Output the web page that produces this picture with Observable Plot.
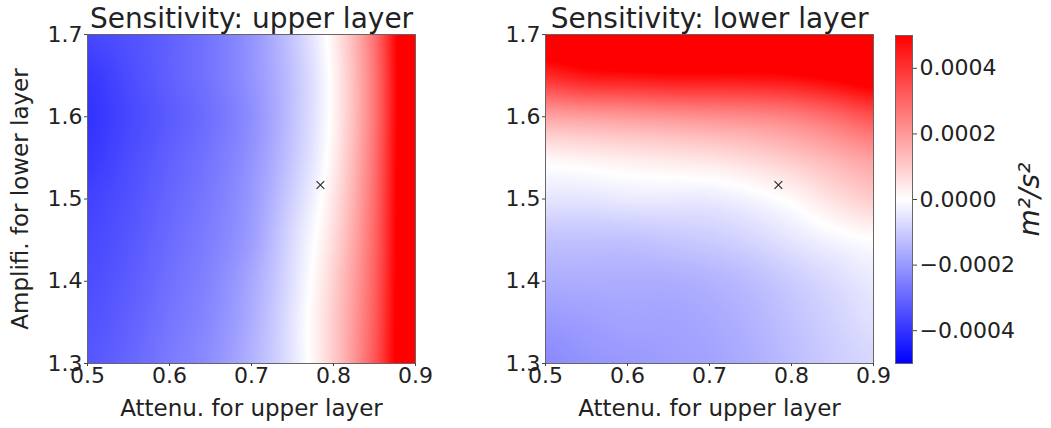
<!DOCTYPE html>
<html>
<head>
<meta charset="utf-8">
<script src="https://cdn.jsdelivr.net/npm/d3@7"></script>
<script src="https://cdn.jsdelivr.net/npm/@observablehq/plot@0.6"></script>
<style>
  body { margin: 0; background: white; }
  #fig { position: relative; width: 1051px; height: 428px; background: white; overflow: hidden; }
  #fig svg { position: absolute; left: 0; top: 0; }
</style>
</head>
<body>
<div id="fig"></div>
<script>
// Grid coordinates
const xs = [0.5, 0.55, 0.6, 0.65, 0.7, 0.75, 0.8, 0.85, 0.9];
const ys = [1.7, 1.65, 1.6, 1.55, 1.5, 1.45, 1.4, 1.35, 1.3]; // rows top to bottom

// Sensitivity of upper layer (m^2/s^2), rows follow ys, columns follow xs
const upperLayer = [
  [-0.00036, -0.00034, -0.00031, -0.00027, -0.00021, -0.00011, 0.00003, 0.00028, 0.00065],
  [-0.00039, -0.00035, -0.00031, -0.00027, -0.00021, -0.00012, 0.00002, 0.00027, 0.00065],
  [-0.00040, -0.00036, -0.00032, -0.00028, -0.00022, -0.00012, 0.00002, 0.00027, 0.00065],
  [-0.00039, -0.00035, -0.00031, -0.00027, -0.00021, -0.00011, 0.00003, 0.00028, 0.00065],
  [-0.00037, -0.00034, -0.00030, -0.00026, -0.00020, -0.00009, 0.00005, 0.00029, 0.00065],
  [-0.00036, -0.00033, -0.00029, -0.00025, -0.00019, -0.00007, 0.00007, 0.00030, 0.00065],
  [-0.00035, -0.00032, -0.00028, -0.00024, -0.00017, -0.00006, 0.00009, 0.00031, 0.00065],
  [-0.00034, -0.00031, -0.00027, -0.00023, -0.00016, -0.00005, 0.00010, 0.00032, 0.00065],
  [-0.00033, -0.00030, -0.00026, -0.00022, -0.00015, -0.00005, 0.00010, 0.00033, 0.00065]
];

// Sensitivity of lower layer (m^2/s^2)
const lowerLayer = [
  [0.00060, 0.00065, 0.00070, 0.00070, 0.00070, 0.00070, 0.00070, 0.00070, 0.00070],
  [0.00042, 0.00046, 0.00047, 0.00048, 0.00048, 0.00048, 0.00049, 0.00052, 0.00056],
  [0.00018, 0.00019, 0.00020, 0.00021, 0.00022, 0.00023, 0.00025, 0.00029, 0.00034],
  [0.00002, 0.00003, 0.00004, 0.00005, 0.00006, 0.00008, 0.00011, 0.00015, 0.00019],
  [-0.00005, -0.00005, -0.00004, -0.00004, -0.00004, -0.00002, 0.00001, 0.00006, 0.00010],
  [-0.00012, -0.00012, -0.00012, -0.00011, -0.00010, -0.00008, -0.00005, -0.00002, 0.00000],
  [-0.00016, -0.00016, -0.00016, -0.00016, -0.00015, -0.00013, -0.00010, -0.00007, -0.00004],
  [-0.00020, -0.00019, -0.00018, -0.00018, -0.00017, -0.00015, -0.00012, -0.00009, -0.00006],
  [-0.00023, -0.00021, -0.00020, -0.00019, -0.00018, -0.00016, -0.00013, -0.00010, -0.00008]
];

// Reference point marked with ×
const refX = [0.784];
const refY = [1.517];

const xTicks = [0.5, 0.6, 0.7, 0.8, 0.9];
const yTicks = [1.3, 1.4, 1.5, 1.6, 1.7];
const cbTicks = [-0.0004, -0.0002, 0, 0.0002, 0.0004];
const titles = ["Sensitivity: upper layer", "Sensitivity: lower layer"];
const xLabel = "Attenu. for upper layer";
const yLabel = "Amplifi. for lower layer";
const cbLabel = "m²/s²";

const W = 1051, H = 428;
const bwr = d3.piecewise(d3.interpolateRgb, ["#0000ff", "#ffffff", "#ff0000"]);
const colorScale = {type: "linear", domain: [-0.0005, 0.0005], interpolate: bwr, clamp: true};
const font = {fontFamily: "DejaVu Sans, sans-serif", fontSize: "21px", background: "transparent", overflow: "visible"};

// smooth (Catmull-Rom) sampling of a grid for the raster
function cr(p0, p1, p2, p3, t) {
  return 0.5 * ((2 * p1) + (-p0 + p2) * t + (2 * p0 - 5 * p1 + 4 * p2 - p3) * t * t + (-p0 + 3 * p1 - 3 * p2 + p3) * t * t * t);
}
function sampler(grid) {
  const nr = grid.length, nc = grid[0].length;
  const at = (r, c) => grid[Math.max(0, Math.min(nr - 1, r))][Math.max(0, Math.min(nc - 1, c))];
  return (x, y) => {
    const u = (x - xs[0]) / (xs[1] - xs[0]);
    const v = (ys[0] - y) / (ys[0] - ys[1]);
    const c = Math.max(0, Math.min(nc - 2, Math.floor(u))), r = Math.max(0, Math.min(nr - 2, Math.floor(v)));
    const tu = u - c, tv = v - r;
    const rows = [-1, 0, 1, 2].map(dr => cr(at(r + dr, c - 1), at(r + dr, c), at(r + dr, c + 1), at(r + dr, c + 2), tu));
    return cr(rows[0], rows[1], rows[2], rows[3], tv);
  };
}

function panel(grid, title, left, showYLabel) {
  return Plot.plot({
    width: W, height: H,
    marginLeft: left, marginRight: W - left - 328,
    marginTop: 34, marginBottom: H - 363,
    style: font,
    x: {domain: [0.5, 0.9]},
    y: {domain: [1.3, 1.7]},
    color: colorScale,
    marks: [
      Plot.raster({fill: sampler(grid), x1: 0.5, x2: 0.9, y1: 1.3, y2: 1.7, pixelSize: 1}),
      Plot.frame({stroke: "#666", strokeWidth: 1}),
      Plot.dot(refX.map((x, i) => ({x, y: refY[i]})), {x: "x", y: "y", symbol: "times", r: 3.6, stroke: "#333", strokeWidth: 1.3}),
      Plot.axisX({ticks: xTicks, tickFormat: d3.format(".1f"), tickSize: 3, tickPadding: 1, label: null, fontSize: 22, stroke: "#444", fill: "#222"}),
      Plot.axisY({ticks: yTicks, tickFormat: d3.format(".1f"), tickSize: 3, tickPadding: 2, label: null, fontSize: 22, stroke: "#444", fill: "#222"}),
      Plot.text([title], {frameAnchor: "top", lineAnchor: "bottom", dy: -7, fontSize: 28, fill: "#222"}),
      Plot.text([xLabel], {frameAnchor: "bottom", lineAnchor: "bottom", dy: 52, fontSize: 23, fill: "#222"}),
      ...(showYLabel ? [Plot.text([yLabel], {frameAnchor: "left", textAnchor: "middle", dx: -67, rotate: -90, fontSize: 23, fill: "#222"})] : [])
    ]
  });
}

function colorbar() {
  const left = 895, w = 17;
  return Plot.plot({
    width: W, height: H,
    marginLeft: left, marginRight: W - left - w,
    marginTop: 35, marginBottom: H - 363,
    style: font,
    x: {domain: [0, 1], axis: null},
    y: {domain: [-0.0005, 0.0005]},
    color: colorScale,
    marks: [
      Plot.raster({fill: (x, y) => y, x1: 0, x2: 1, y1: -0.0005, y2: 0.0005, pixelSize: 1}),
      Plot.frame({stroke: "#666", strokeWidth: 1}),
      Plot.axisY({anchor: "right", ticks: cbTicks, tickFormat: d3.format(".4f"), tickSize: 4, tickPadding: 3, label: null, fontSize: 22, stroke: "#444", fill: "#222"}),
      Plot.text([cbLabel], {frameAnchor: "right", textAnchor: "middle", dx: 118, rotate: -90, fontSize: 28, fontStyle: "italic", fill: "#222"})
    ]
  });
}

const fig = document.getElementById("fig");
fig.append(panel(upperLayer, titles[0], 87, true));
fig.append(panel(lowerLayer, titles[1], 545, false));
fig.append(colorbar());
</script>
</body>
</html>
